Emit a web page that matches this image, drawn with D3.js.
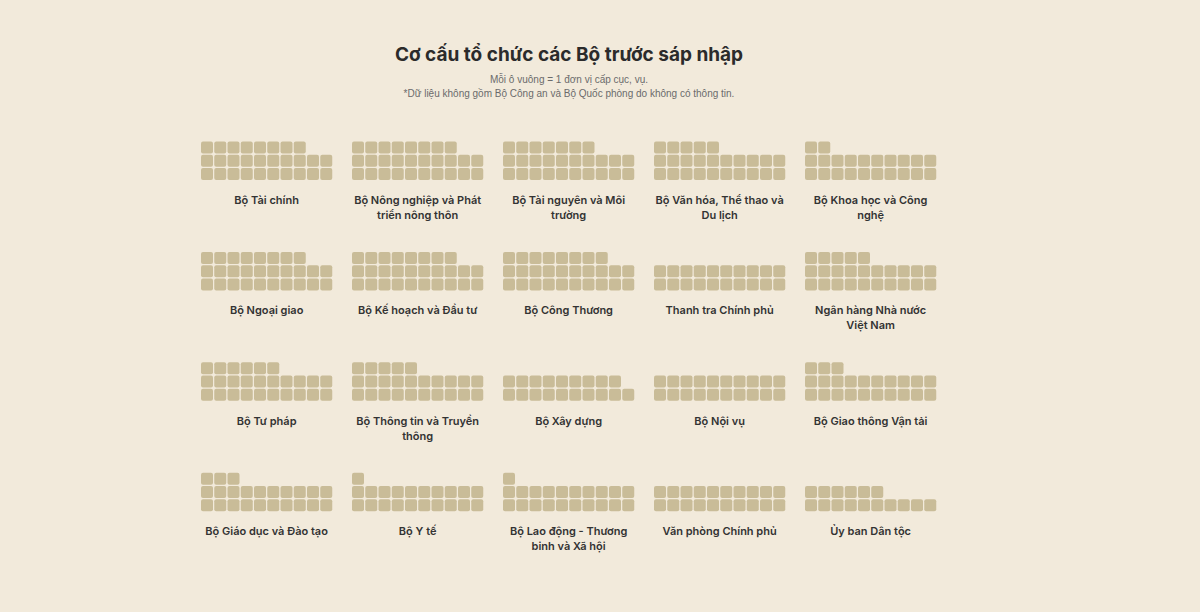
<!DOCTYPE html>
<html>
<head>
<meta charset="utf-8">
<script src="https://cdn.jsdelivr.net/npm/d3@7/dist/d3.min.js"></script>
<style>
  html, body { margin: 0; padding: 0; background: #f2eadb; }
  #chart { width: 1200px; height: 612px; }
</style>
</head>
<body>
<div id="chart"></div>
<script>
// ministries, left to right, top to bottom
var ministries = [
  "Bộ Tài chính", "Bộ Nông nghiệp và Phát triển nông thôn", "Bộ Tài nguyên và Môi trường",
  "Bộ Văn hóa, Thể thao và Du lịch", "Bộ Khoa học và Công nghệ",
  "Bộ Ngoại giao", "Bộ Kế hoạch và Đầu tư", "Bộ Công Thương", "Thanh tra Chính phủ",
  "Ngân hàng Nhà nước Việt Nam",
  "Bộ Tư pháp", "Bộ Thông tin và Truyền thông", "Bộ Xây dựng", "Bộ Nội vụ",
  "Bộ Giao thông Vận tải",
  "Bộ Giáo dục và Đào tạo", "Bộ Y tế", "Bộ Lao động - Thương binh và Xã hội",
  "Văn phòng Chính phủ", "Ủy ban Dân tộc"
];
// number of department-level units (each = one square)
var units = [
  28, 28, 27, 25, 22,
  28, 28, 28, 20, 25,
  26, 25, 19, 20, 23,
  23, 21, 21, 20, 16
];

var title = "Cơ cấu tổ chức các Bộ trước sáp nhập";
var subtitle = ["Mỗi ô vuông = 1 đơn vị cấp cục, vụ.",
  "*Dữ liệu không gồm Bộ Công an và Bộ Quốc phòng do không có thông tin."];

var W = 1200, H = 612;
var perRow = 10, ncols = 5;
var cell = 13.25, sq = 12;

var svg = d3.select("#chart").append("svg")
  .attr("width", W).attr("height", H)
  .style("display", "block");

svg.append("rect").attr("width", W).attr("height", H).attr("fill", "#f2eadb");

svg.append("text")
  .attr("x", 569).attr("y", 61)
  .attr("text-anchor", "middle")
  .attr("font-family", "Inter, Lato, sans-serif")
  .attr("font-weight", 700)
  .attr("font-size", "19px")
  .attr("fill", "#2b2b2b")
  .text(title);

svg.selectAll(".sub")
  .data(subtitle)
  .enter().append("text")
  .attr("class", "sub")
  .attr("x", 569)
  .attr("y", function(d, i) { return 83 + i * 14; })
  .attr("text-anchor", "middle")
  .attr("font-family", "'Liberation Sans', Arial, sans-serif")
  .attr("font-size", "10px")
  .attr("fill", "#6b6b6b")
  .text(function(d) { return d; });

// panel positions
var px = d3.scaleLinear().domain([0, 1]).range([201, 352]);
var py = d3.scaleLinear().domain([0, 1]).range([180, 290.4]);
// cell positions inside a panel
var cx = d3.scaleLinear().domain([0, 1]).range([0, cell]);

var data = ministries.map(function(m, i) { return { name: m, n: units[i], i: i }; });

var panel = svg.selectAll(".panel")
  .data(data)
  .enter().append("g")
  .attr("class", "panel")
  .attr("transform", function(d) {
    return "translate(" + px(d.i % ncols) + "," + py(Math.floor(d.i / ncols)) + ")";
  });

panel.selectAll("rect")
  .data(function(d) { return d3.range(d.n); })
  .enter().append("rect")
  .attr("x", function(k) { return cx(k % perRow); })
  .attr("y", function(k) { return -cx(Math.floor(k / perRow) + 1) + (cell - sq); })
  .attr("width", sq).attr("height", sq)
  .attr("rx", 2)
  .attr("fill", "#c9bc98");

var labelW = perRow * cell;

panel.append("text")
  .attr("x", labelW / 2 - (cell - sq) / 2)
  .attr("y", 24)
  .attr("text-anchor", "middle")
  .attr("font-family", "Inter, Lato, sans-serif")
  .attr("font-weight", 600)
  .attr("font-size", "11px")
  .attr("fill", "#333")
  .each(function(d) { wrap(d3.select(this), d.name, 130); });

function wrap(text, str, width) {
  var words = str.split(" "), line = [];
  var x = text.attr("x");
  var tspan = text.append("tspan").attr("x", x).attr("dy", 0);
  words.forEach(function(w) {
    line.push(w);
    tspan.text(line.join(" "));
    if (tspan.node().getComputedTextLength() > width && line.length > 1) {
      line.pop();
      tspan.text(line.join(" "));
      line = [w];
      tspan = text.append("tspan").attr("x", x).attr("dy", "1.35em").text(w);
    }
  });
}
</script>
</body>
</html>
